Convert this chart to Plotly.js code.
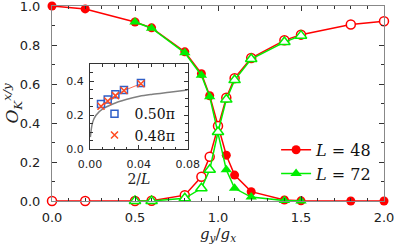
<!DOCTYPE html>
<html><head><meta charset="utf-8">
<script src="https://cdn.plot.ly/plotly-3.0.1.min.js"></script>
<style>html,body{margin:0;padding:0;background:#fff}#plot{width:394px;height:248px}</style>
</head><body><div id="plot"></div>
<script>
// main panel: g_y/g_x and order parameters
const gL48 = [0, 0.2, 0.5, 0.6, 0.8, 0.9, 0.95, 1.0, 1.05, 1.1, 1.2, 1.4, 1.5, 1.8, 2.0];
const oxL48 = [1.0, 0.985, 0.918, 0.888, 0.765, 0.653, 0.54, 0.385, 0.235, 0.133, 0.048, 0.005, 0.001, 0, 0];
const oyL48 = [0, 0, 0, 0.001, 0.03, 0.124, 0.227, 0.385, 0.53, 0.63, 0.733, 0.824, 0.853, 0.905, 0.922];
const gL72 = [0.5, 0.6, 0.8, 0.9, 0.95, 1.0, 1.05, 1.1, 1.2, 1.4, 1.5];
const oxL72 = [0.918, 0.886, 0.76, 0.645, 0.535, 0.354, 0.16, 0.065, 0.02, 0.002, 0];
const oyL72 = [0, 0, 0.014, 0.065, 0.16, 0.354, 0.52, 0.62, 0.728, 0.815, 0.848];
// inset: 2/L
const invL = [0.009, 0.0145, 0.0208, 0.0278, 0.0417];
const ord050 = [0.266, 0.292, 0.323, 0.348, 0.389];
const ord048 = [0.253, 0.284, 0.315, 0.345, 0.385];
const curveX = [0.0003, 0.0022, 0.0049, 0.0104, 0.0186, 0.0295, 0.0404, 0.0513, 0.065, 0.08];
const curveY = [0.072, 0.16, 0.2, 0.237, 0.266, 0.292, 0.311, 0.323, 0.335, 0.348];
// tick labels
const mainXTicks = [0, 0.5, 1.0, 1.5, 2.0];
const mainXLabels = ['0.0', '0.5', '1.0', '1.5', '2.0'];
const mainYTicks = [0, 0.2, 0.4, 0.6, 0.8, 1.0];
const mainYLabels = ['0.0', '0.2', '0.4', '0.6', '0.8', '1.0'];
const insetXTicks = [0, 0.04, 0.08];
const insetXLabels = ['0.00', '0.04', '0.08'];
const insetYTicks = [0, 0.2, 0.4];
const insetYLabels = ['0.0', '0.2', '0.4'];

const RED = '#ff0000', GREEN = '#00ee00';
const traces = [
  {x: gL48, y: oxL48, mode: 'lines+markers', name: '<i>L</i> = 48', cliponaxis: false,
   line: {color: RED, width: 1.5}, marker: {symbol: 'circle', size: 9, color: RED}, legend: 'legend'},
  {x: gL48, y: oyL48, mode: 'lines+markers', showlegend: false, cliponaxis: false,
   line: {color: RED, width: 1.5}, marker: {symbol: 'circle', size: 9, color: '#fff', line: {color: RED, width: 1.5}}},
  {x: gL72, y: oxL72, mode: 'lines+markers', name: '<i>L</i> = 72', cliponaxis: false,
   line: {color: GREEN, width: 1.5}, marker: {symbol: 'triangle-up', size: 10, color: GREEN}, legend: 'legend'},
  {x: gL72, y: oyL72, mode: 'lines+markers', showlegend: false, cliponaxis: false,
   line: {color: GREEN, width: 1.5}, marker: {symbol: 'triangle-up', size: 10, color: '#fff', line: {color: GREEN, width: 1.5}}},
  // inset
  {x: curveX, y: curveY, xaxis: 'x2', yaxis: 'y2', mode: 'lines', showlegend: false,
   line: {color: '#808080', width: 1.5, shape: 'spline'}},
  {x: invL, y: ord048, xaxis: 'x2', yaxis: 'y2', mode: 'lines', showlegend: false,
   line: {color: '#ff6a50', width: 1}},
  {x: invL, y: ord050, xaxis: 'x2', yaxis: 'y2', mode: 'markers', name: '0.50π', legend: 'legend2',
   marker: {symbol: 'square-open', size: 7, color: '#2f5fc8', line: {width: 1.5}}},
  {x: invL, y: ord048, xaxis: 'x2', yaxis: 'y2', mode: 'markers', name: '0.48π', legend: 'legend2',
   marker: {symbol: 'x-thin-open', size: 7, color: '#ff4a20', line: {width: 1.5, color: '#ff4a20'}}}
];

const tickFont = {family: 'DejaVu Sans', size: 13, color: '#222'};
const insetTickFont = {family: 'DejaVu Sans', size: 11, color: '#222'};
const serif = 'DejaVu Serif';

const layout = {
  width: 394, height: 248,
  margin: {l: 52, r: 10, t: 6, b: 47},
  paper_bgcolor: '#fff', plot_bgcolor: 'rgba(0,0,0,0)',
  showlegend: true,
  xaxis: {range: [0, 2], tickmode: 'array', tickvals: mainXTicks, ticktext: mainXLabels,
          ticks: 'inside', ticklen: 5, tickcolor: '#333', ticklabeloverflow: 'allow',
          showgrid: false, zeroline: false, showline: true, linecolor: '#888', linewidth: 1, mirror: 'ticks',
          minor: {dtick: 0.1, tick0: 0, ticks: 'inside', ticklen: 3, tickcolor: '#333'},
          tickfont: tickFont, ticklabelstandoff: 4,
          title: {text: '<i>g</i><sub><i>y</i></sub>/<i>g</i><sub><i>x</i></sub>', font: {family: serif, size: 15, color: '#222'}, standoff: 2}},
  yaxis: {range: [0, 1], tickmode: 'array', tickvals: mainYTicks, ticktext: mainYLabels,
          ticks: 'inside', ticklen: 5, tickcolor: '#333', ticklabeloverflow: 'allow',
          showgrid: false, zeroline: false, showline: true, linecolor: '#888', linewidth: 1, mirror: 'ticks',
          minor: {dtick: 0.1, tick0: 0, ticks: 'inside', ticklen: 3, tickcolor: '#333'},
          tickfont: tickFont, ticklabelstandoff: 8,
          title: {text: '<i>O</i><sub><i>K</i></sub><sup><i>x/y</i></sup>', font: {family: serif, size: 17, color: '#222'}, standoff: 4}},
  xaxis2: {domain: [0.1145, 0.4087], anchor: 'y2', range: [0, 0.08], tickmode: 'array', tickvals: insetXTicks, ticktext: insetXLabels,
           ticks: 'inside', ticklen: 4, tickcolor: '#333', showgrid: false, zeroline: false, showline: true,
           linecolor: '#333', linewidth: 1, mirror: 'ticks', ticklabeloverflow: 'allow',
           minor: {dtick: 0.01, tick0: 0, ticks: 'inside', ticklen: 2.5, tickcolor: '#333'},
           tickfont: insetTickFont, ticklabelstandoff: 4,
           title: {text: '2/<i>L</i>', font: {family: serif, size: 14, color: '#222'}, standoff: 2}},
  yaxis2: {domain: [0.2645, 0.7023], anchor: 'x2', range: [0, 0.5], tickmode: 'array', tickvals: insetYTicks, ticktext: insetYLabels,
           ticks: 'inside', ticklen: 4, tickcolor: '#333', showgrid: false, zeroline: false, showline: true,
           linecolor: '#333', linewidth: 1, mirror: 'ticks', ticklabeloverflow: 'allow',
           minor: {dtick: 0.05, tick0: 0, ticks: 'inside', ticklen: 2.5, tickcolor: '#333'},
           tickfont: insetTickFont, ticklabelstandoff: 3},
  legend: {x: 0.675, y: 0.201, xanchor: 'left', yanchor: 'middle', bgcolor: 'rgba(255,255,255,0)',
           font: {family: serif, size: 16, color: '#111'}, tracegroupgap: 0},
  legend2: {x: 0.128, y: 0.391, xanchor: 'left', yanchor: 'middle', bgcolor: 'rgba(255,255,255,0)',
            font: {family: serif, size: 14, color: '#111'}, tracegroupgap: 0}
};

Plotly.newPlot('plot', traces, layout, {staticPlot: true, displayModeBar: false});
</script></body></html>
